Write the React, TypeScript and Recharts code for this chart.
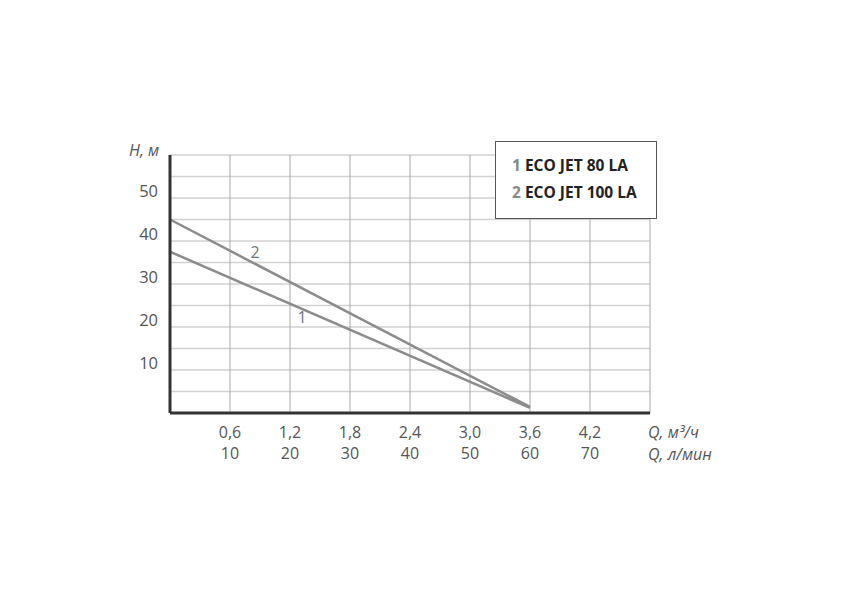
import { LineChart, Line, XAxis, YAxis, CartesianGrid, ReferenceDot } from 'recharts';

// flow points (m³/h) and head (m) for each pump
const flowPoints = [0, 3.6];
const headEco80 = [37.5, 1.2];
const headEco100 = [45, 1.4];

const xTicks = [0.6, 1.2, 1.8, 2.4, 3.0, 3.6, 4.2, 4.8];
const xLabelsM3h = ['0,6', '1,2', '1,8', '2,4', '3,0', '3,6', '4,2', ''];
const xLabelsLmin = ['10', '20', '30', '40', '50', '60', '70', ''];
const yTicks = [5, 10, 15, 20, 25, 30, 35, 40, 45, 50, 55];

const seriesNames = ['ECO JET 80 LA', 'ECO JET 100 LA'];
// curve number tags drawn in the plot: [q, h]
const tagPos = [
  { id: '1', q: 1.32, h: 22.2 },
  { id: '2', q: 0.85, h: 37.4 },
];

const data = flowPoints.map((q, i) => ({ q, h80: headEco80[i], h100: headEco100[i] }));

const FONT = '"Open Sans", sans-serif';
const LINE = '#8c8c8c';

function XTick({ x, payload }: any) {
  const i = xTicks.indexOf(payload.value);
  if (i < 0 || !xLabelsM3h[i]) return null;
  return (
    <g>
      <text x={x} y={438} textAnchor="middle" fill="#555" fontSize={16} fontFamily={FONT}>
        {xLabelsM3h[i]}
      </text>
      <text x={x} y={459} textAnchor="middle" fill="#555" fontSize={16} fontFamily={FONT}>
        {xLabelsLmin[i]}
      </text>
    </g>
  );
}

function YTick({ y, payload }: any) {
  if (payload.value % 10 !== 0) return null;
  return (
    <text x={158} y={y - 1} textAnchor="end" fill="#555" fontSize={16.5} fontFamily={FONT}>
      {payload.value}
    </text>
  );
}

function LegendBox() {
  const nums = ['#7b8b8e', '#8a8a8a'];
  return (
    <div
      style={{
        position: 'absolute',
        left: 495,
        top: 141,
        width: 160,
        height: 76,
        border: '1px solid #555',
        background: '#fff',
        fontFamily: FONT,
        fontWeight: 700,
        fontSize: 15.5,
        color: '#222',
      }}
    >
      {seriesNames.map((n, i) => (
        <div key={n} style={{ position: 'absolute', left: 16, top: 12 + i * 27, whiteSpace: 'nowrap' }}>
          <span style={{ color: nums[i] }}>{i + 1}</span> {n}
        </div>
      ))}
    </div>
  );
}

export default function App() {
  return (
    <div style={{ position: 'absolute', left: 0, top: 0, width: 849, height: 614, background: '#fff' }}>
      <LineChart width={849} height={614} data={data} margin={{ top: 155, right: 199, bottom: 161, left: 130 }}>
        <CartesianGrid vertical={false} stroke="#d2d2d2" strokeWidth={1.5} />
        <CartesianGrid horizontal={false} stroke="#a8a8a8" strokeWidth={1} />
        <XAxis
          type="number"
          dataKey="q"
          domain={[0, 4.8]}
          ticks={xTicks}
          tick={<XTick />}
          tickLine={false}
          axisLine={{ stroke: '#333', strokeWidth: 3 }}
          height={40}
          interval={0}
        />
        <YAxis
          type="number"
          domain={[0, 60]}
          ticks={yTicks}
          tick={<YTick />}
          tickLine={false}
          axisLine={{ stroke: '#333', strokeWidth: 3 }}
          width={40}
          interval={0}
        />
        <Line dataKey="h80" stroke={LINE} strokeWidth={2.5} dot={false} isAnimationActive={false} />
        <Line dataKey="h100" stroke={LINE} strokeWidth={2.5} dot={false} isAnimationActive={false} />
        {tagPos.map((t) => (
          <ReferenceDot
            key={t.id}
            x={t.q}
            y={t.h}
            r={0}
            label={{ value: t.id, fill: '#6b7678', fontSize: 16, fontFamily: FONT, position: 'center' }}
          />
        ))}
      </LineChart>
      <LegendBox />
      <div style={{ position: 'absolute', left: 129, top: 139, fontFamily: FONT, fontStyle: 'italic', fontSize: 16, color: '#555' }}>
        H, м
      </div>
      <div style={{ position: 'absolute', left: 648, top: 421, fontFamily: FONT, fontStyle: 'italic', fontSize: 16, color: '#555' }}>
        Q, м³/ч
      </div>
      <div style={{ position: 'absolute', left: 648, top: 443, fontFamily: FONT, fontStyle: 'italic', fontSize: 16, color: '#555' }}>
        Q, л/мин
      </div>
    </div>
  );
}
